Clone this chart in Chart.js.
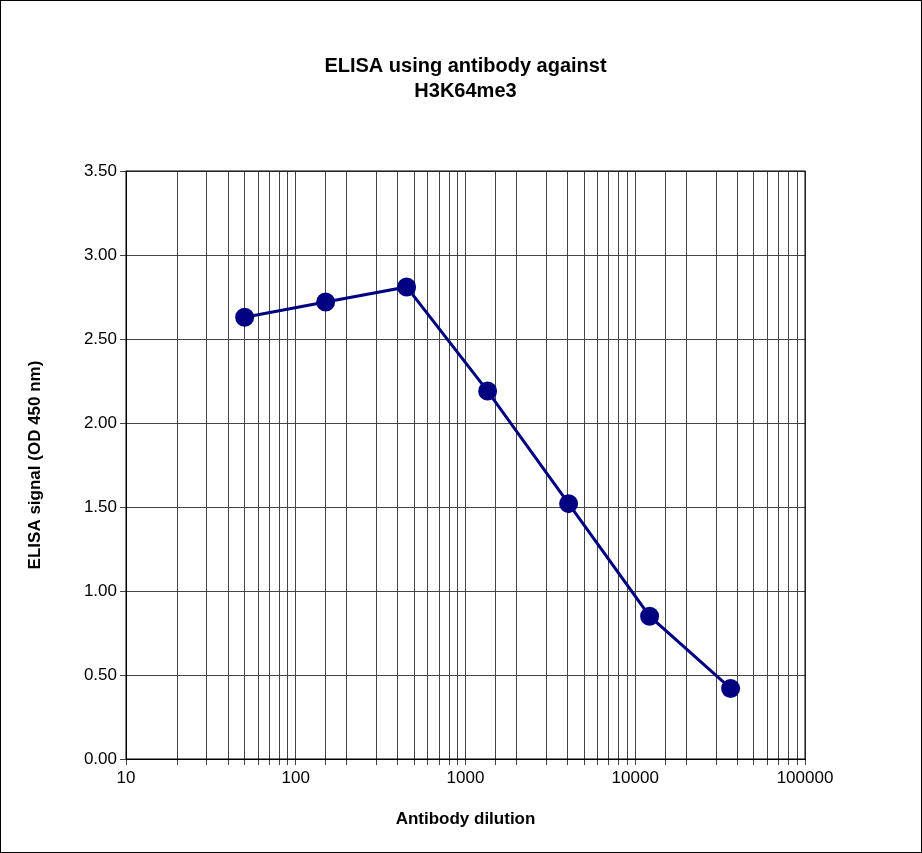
<!DOCTYPE html>
<html><head><meta charset="utf-8">
<script src="https://cdn.jsdelivr.net/npm/chart.js@4"></script>
<style>
html,body{margin:0;padding:0;background:#fff;}
#wrap{width:920px;height:851px;border:1px solid #000;}
</style></head>
<body><div id="wrap"><canvas id="c" width="920" height="851"></canvas></div>
<script>
// dilution vs signal
const dilutions = [50, 150, 450, 1350, 4050, 12150, 36450];
const signals = [2.63, 2.72, 2.81, 2.19, 1.52, 0.85, 0.42];
const titleLines = ['ELISA using antibody against', 'H3K64me3'];

const font = 'Liberation Sans, Arial, sans-serif';

new Chart(document.getElementById('c'), {
    type: 'line',
    data: {
        datasets: [{
            data: dilutions.map((d, i) => ({ x: d, y: signals[i] })),
            borderColor: '#000080',
            backgroundColor: '#000080',
            borderWidth: 3,
            pointRadius: 8,
            tension: 0
        }]
    },
    options: {
        responsive: false,
        animation: false,
        layout: { padding: { left: 20, right: 116, bottom: 18 } },
        plugins: {
            legend: { display: false },
            tooltip: { enabled: false },
            title: {
                display: true, text: titleLines, color: '#000', fullSize: false,
                font: { family: font, size: 20, weight: 'bold', lineHeight: 1.25 },
                padding: { top: 53, bottom: 67 }
            }
        },
        scales: {
            x: {
                type: 'logarithmic', min: 10, max: 100000,
                border: { color: '#000' },
                grid: { color: '#444', lineWidth: 1, tickLength: 6 },
                ticks: {
                    color: '#000', font: { family: font, size: 17 }, autoSkip: false, maxRotation: 0,
                    callback: v => [10, 100, 1000, 10000, 100000].includes(v) ? String(v) : ''
                },
                title: { display: true, text: 'Antibody dilution', color: '#000', font: { family: font, size: 17, weight: 'bold' } },
                afterFit: s => { s.height = 75; }
            },
            y: {
                min: 0, max: 3.5,
                border: { color: '#000' },
                grid: { color: '#444', lineWidth: 1, tickLength: 6 },
                ticks: { stepSize: 0.5, color: '#000', font: { family: font, size: 17 }, callback: v => v.toFixed(2) },
                title: { display: true, text: 'ELISA signal (OD 450 nm)', color: '#000', font: { family: font, size: 17, weight: 'bold' } },
                afterFit: s => { s.width = 105; }
            }
        }
    },
    plugins: [{
        id: 'frame',
        afterDraw(chart) {
            const { ctx, chartArea: a } = chart;
            ctx.save(); ctx.strokeStyle = '#000'; ctx.lineWidth = 1;
            ctx.strokeRect(a.left, a.top, a.right - a.left, a.bottom - a.top);
            ctx.restore();
        }
    }]
});
</script></body></html>
